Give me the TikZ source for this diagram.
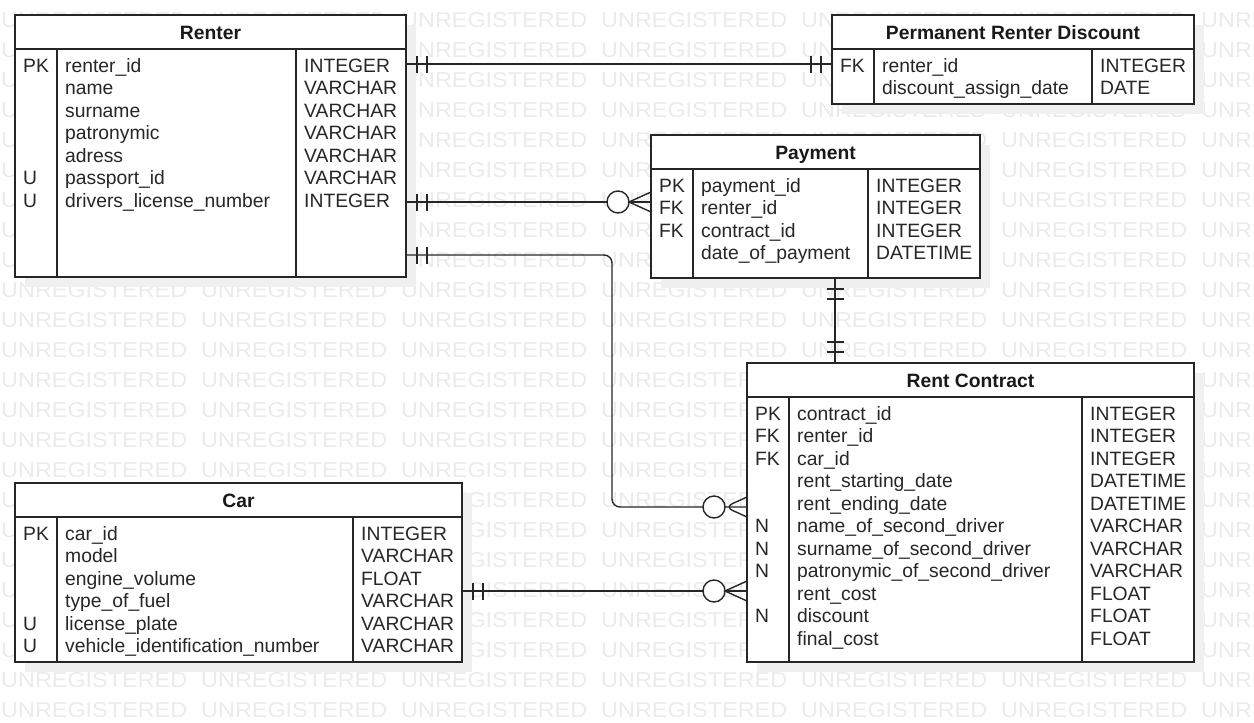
\documentclass[tikz,border=0pt]{standalone}
\usepackage{fontspec}
\setmainfont{Liberation Sans}
\usepackage{graphicx}
\usetikzlibrary{
    positioning,
    shadows,
    decorations.markings
}

\tikzset{
    tbl/.style={draw=black!85, line width=1.5pt, fill=white, anchor=north west,
        inner sep=0pt, outer sep=0pt,
        drop shadow={shadow xshift=10pt, shadow yshift=-10pt, fill=black!6, opacity=1}},
    rule/.style={draw=black!85, line width=1.5pt},
    head/.style={inner sep=0pt, text height=14pt, text depth=0pt,
        font=\fontsize{19.3}{22}\selectfont\bfseries, text=black!90},
    field/.style={anchor=west, inner sep=0pt, text height=14pt, text depth=0pt,
        font=\fontsize{19.3}{22}\selectfont, text=black!85},
    wm/.style={anchor=south west, inner sep=0pt, text=black!8},
    link/.style={draw=black!85, line width=1.4pt},
    oneone/.style={postaction={decorate}, decoration={markings,
        mark=at position 11pt with {\erbar},
        mark=at position 21pt with {\erbar},
        mark=at position -21pt with {\erbar},
        mark=at position -11pt with {\erbar}}},
    onemany/.style={postaction={decorate}, decoration={markings,
        mark=at position 11pt with {\erbar},
        mark=at position 21pt with {\erbar},
        mark=at position -33pt with {\draw[link, fill=white] (0pt,0pt) circle[radius=11pt];},
        mark=at position -22pt with {\draw[link] (22pt,10pt) -- (0pt,0pt) -- (22pt,-10pt);}}}
}

\newcommand{\erbar}{\draw[link] (0pt,-8.5pt) -- (0pt,8.5pt);}

% name, x, y, width, height, type column, title, rows
\newcommand{\ertable}[8]{%
    \node[tbl, minimum width=#4pt, minimum height=#5pt] (#1) at (#2,#3) {};
    \draw[rule] (#2,#3+34) -- (#2+#4,#3+34);
    \draw[rule] (#2+42,#3+34) -- (#2+42,#3+#5);
    \draw[rule] (#2+#6,#3+34) -- (#2+#6,#3+#5);
    \node[head] (#1-title) at (#2+#4/2,#3+17) {#7};
    \foreach \ky/\fd/\ty [count=\i] in {#8} {
        \node[field] (#1-k\i) at (#2+8,#3+27.5+\i*22.5) {\ky};
        \node[field] (#1-f\i) at (#2+50,#3+27.5+\i*22.5) {\fd};
        \node[field] (#1-t\i) at (#2+#6+8,#3+27.5+\i*22.5) {\ty};
    }
}

\begin{document}
\begin{tikzpicture}[x=1pt, y=-1pt]
    \useasboundingbox (0,0) rectangle (1254,723);

    % watermark
    \begin{scope}
        \clip (0,0) rectangle (1254,723);
        \foreach \r in {0,...,23}
            \foreach \c in {0,...,6}
                \node[wm] (wm-\r-\c) at (\c*200+1,\r*30+28) {\resizebox{186pt}{15pt}{UNREGISTERED}};
    \end{scope}

    % tables
    \ertable{renter}{15}{15}{391}{262}{281}{Renter}{
        PK/renter\_id/INTEGER, /name/VARCHAR, /surname/VARCHAR, /patronymic/VARCHAR,
        /adress/VARCHAR, U/passport\_id/VARCHAR, U/drivers\_license\_number/INTEGER}
    \ertable{prd}{832}{15}{362}{89}{260}{Permanent Renter Discount}{
        FK/renter\_id/INTEGER, /discount\_assign\_date/DATE}
    \ertable{payment}{651}{135}{329}{143}{217}{Payment}{
        PK/payment\_id/INTEGER, FK/renter\_id/INTEGER, FK/contract\_id/INTEGER,
        /date\_of\_payment/DATETIME}
    \ertable{rent}{747}{363}{447}{299}{335}{Rent Contract}{
        PK/contract\_id/INTEGER, FK/renter\_id/INTEGER, FK/car\_id/INTEGER,
        /rent\_starting\_date/DATETIME, /rent\_ending\_date/DATETIME,
        N/name\_of\_second\_driver/VARCHAR, N/surname\_of\_second\_driver/VARCHAR,
        N/patronymic\_of\_second\_driver/VARCHAR, /rent\_cost/FLOAT,
        N/discount/FLOAT, /final\_cost/FLOAT}
    \ertable{car}{15}{483}{447}{179}{338}{Car}{
        PK/car\_id/INTEGER, /model/VARCHAR, /engine\_volume/FLOAT,
        /type\_of\_fuel/VARCHAR, U/license\_plate/VARCHAR,
        U/vehicle\_identification\_number/VARCHAR}

    % relations
    \coordinate (l1) at (0,64);
    \coordinate (l2) at (0,202);
    \coordinate (l3) at (0,255);
    \coordinate (l4) at (612,507);
    \coordinate (l5) at (0,591);
    \coordinate (l6) at (835,0);
    \draw[link, oneone] (renter.east |- l1) -- (prd.west |- l1);
    \draw[link, onemany] (renter.east |- l2) -- (payment.west |- l2);
    \draw[link, onemany, rounded corners=8pt] (renter.east |- l3) -| (l4) -- (rent.west |- l4);
    \draw[link, onemany] (car.east |- l5) -- (rent.west |- l5);
    \draw[link, oneone] (payment.south -| l6) -- (rent.north -| l6);
\end{tikzpicture}
\end{document}
